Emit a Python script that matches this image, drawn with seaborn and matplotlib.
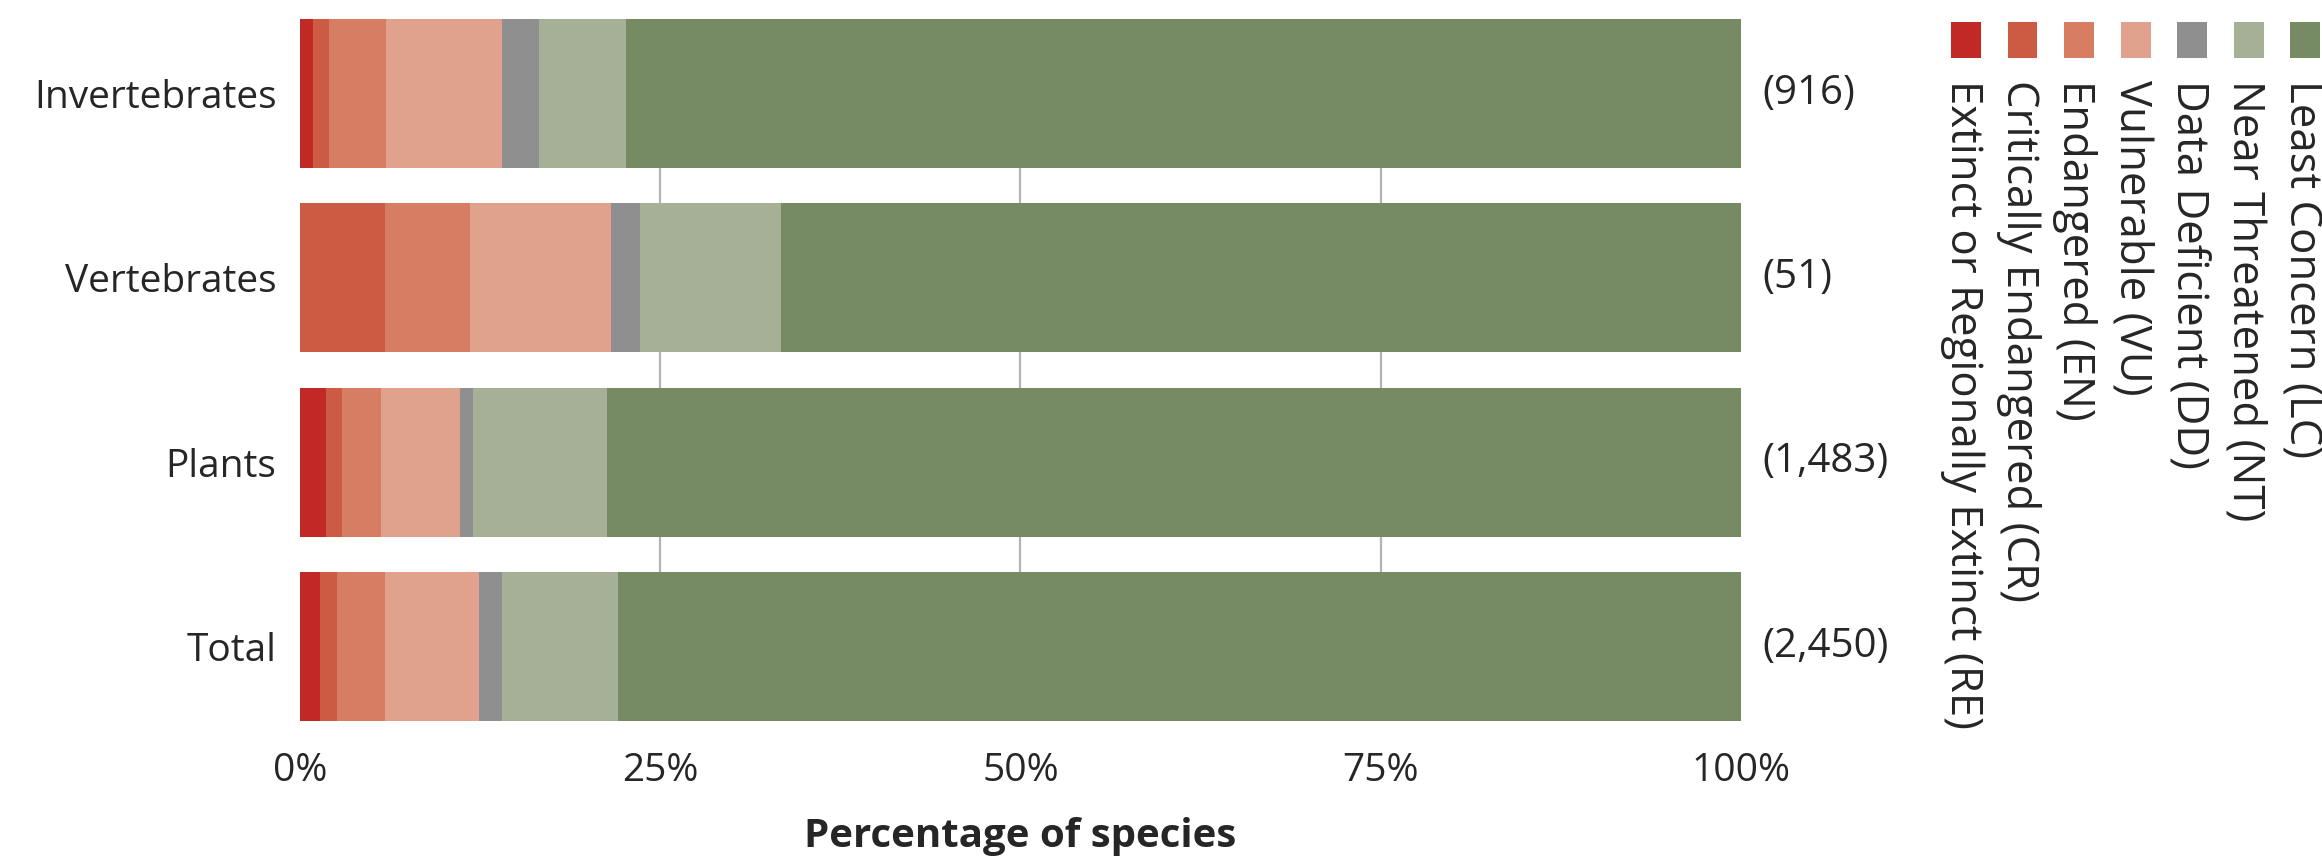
import numpy as np
import pandas as pd
import matplotlib
matplotlib.use('Agg')
import matplotlib.pyplot as plt
from matplotlib.patches import Rectangle
import seaborn as sns

# data (percent of species per group)
groups = ['Invertebrates', 'Vertebrates', 'Plants', 'Total']
n_species = ['(916)', '(51)', '(1,483)', '(2,450)']

categories = ['Extinct or Regionally Extinct (RE)', 'Critically Endangered (CR)',
              'Endangered (EN)', 'Vulnerable (VU)', 'Data Deficient (DD)',
              'Near Threatened (NT)', 'Least Concern (LC)']
colors = ['#c02926', '#cb5b42', '#d67d63', '#e0a28d', '#8f8f8f', '#a5b097', '#768b63']

re_pct = [0.9, 0.0, 1.8, 1.4]
cr_pct = [1.1, 5.9, 1.1, 1.2]
en_pct = [4.0, 5.9, 2.7, 3.3]
vu_pct = [8.0, 9.8, 5.5, 6.5]
dd_pct = [2.6, 2.0, 0.9, 1.6]
nt_pct = [6.0, 9.8, 9.3, 8.1]
lc_pct = [77.4, 66.6, 78.7, 77.9]

xticks = [0, 25, 50, 75, 100]
xticklabels = ['0%', '25%', '50%', '75%', '100%']

df = pd.DataFrame({'group': groups})
cols = ['RE', 'CR', 'EN', 'VU', 'DD', 'NT', 'LC']
for c, v in zip(cols, [re_pct, cr_pct, en_pct, vu_pct, dd_pct, nt_pct, lc_pct]):
    df[c] = v
# cumulative sums so that bars can be layered back to front
cum = df[cols].cumsum(axis=1)
for c in cols:
    df['cum_' + c] = cum[c]

sns.set_theme(style='white')
plt.rcParams['font.family'] = ['Open Sans', 'DejaVu Sans']

W, H = 2322, 859
fig = plt.figure(figsize=(W / 100, H / 100), dpi=100)
ax = fig.add_axes([300 / W, 1 - 721 / H, (1741 - 300) / W, (721 - 19) / H])

bar_w = 0.81
for c, col in zip(reversed(cols), reversed(colors)):
    sns.barplot(data=df, x='cum_' + c, y='group', color=col, saturation=1,
                width=bar_w, orient='h', errorbar=None, linewidth=0, ax=ax)

ax.set_xlim(0, 100)
ax.set_ylim(3 + bar_w / 2, -bar_w / 2)
ax.set_xticks(xticks)
ax.set_xticklabels(xticklabels)
ax.set_ylabel('')
ax.set_xlabel('Percentage of species', fontsize=29, fontweight='bold', labelpad=20)
ax.tick_params(axis='x', labelsize=28, length=0, pad=22)
ax.tick_params(axis='y', labelsize=28, length=0, pad=17)
for s in ax.spines.values():
    s.set_visible(False)

ax.set_axisbelow(True)
ax.xaxis.grid(True, color='#b4b4b4', linewidth=1.6)
ax.yaxis.grid(False)
gl = ax.get_xgridlines()
gl[0].set_visible(False)
gl[-1].set_visible(False)

for i, lab in enumerate(n_species):
    ax.text(101.45, i, lab, va='center', ha='left', fontsize=29)

# legend: colour squares in a row with rotated labels underneath
x0, step, sq_w, sq_h = 1951, 56.5, 30, 36
for i, (name, col) in enumerate(zip(categories, colors)):
    xl = x0 + i * step
    fig.patches.append(Rectangle((xl / W, 1 - 58 / H), sq_w / W, sq_h / H,
                                 transform=fig.transFigure, color=col, lw=0))
    fig.text((xl + sq_w / 2 - 4) / W, 1 - 80 / H, name, rotation=270,
             ha='center', va='top', fontsize=31.5)

fig.savefig('out.png', dpi=100)
